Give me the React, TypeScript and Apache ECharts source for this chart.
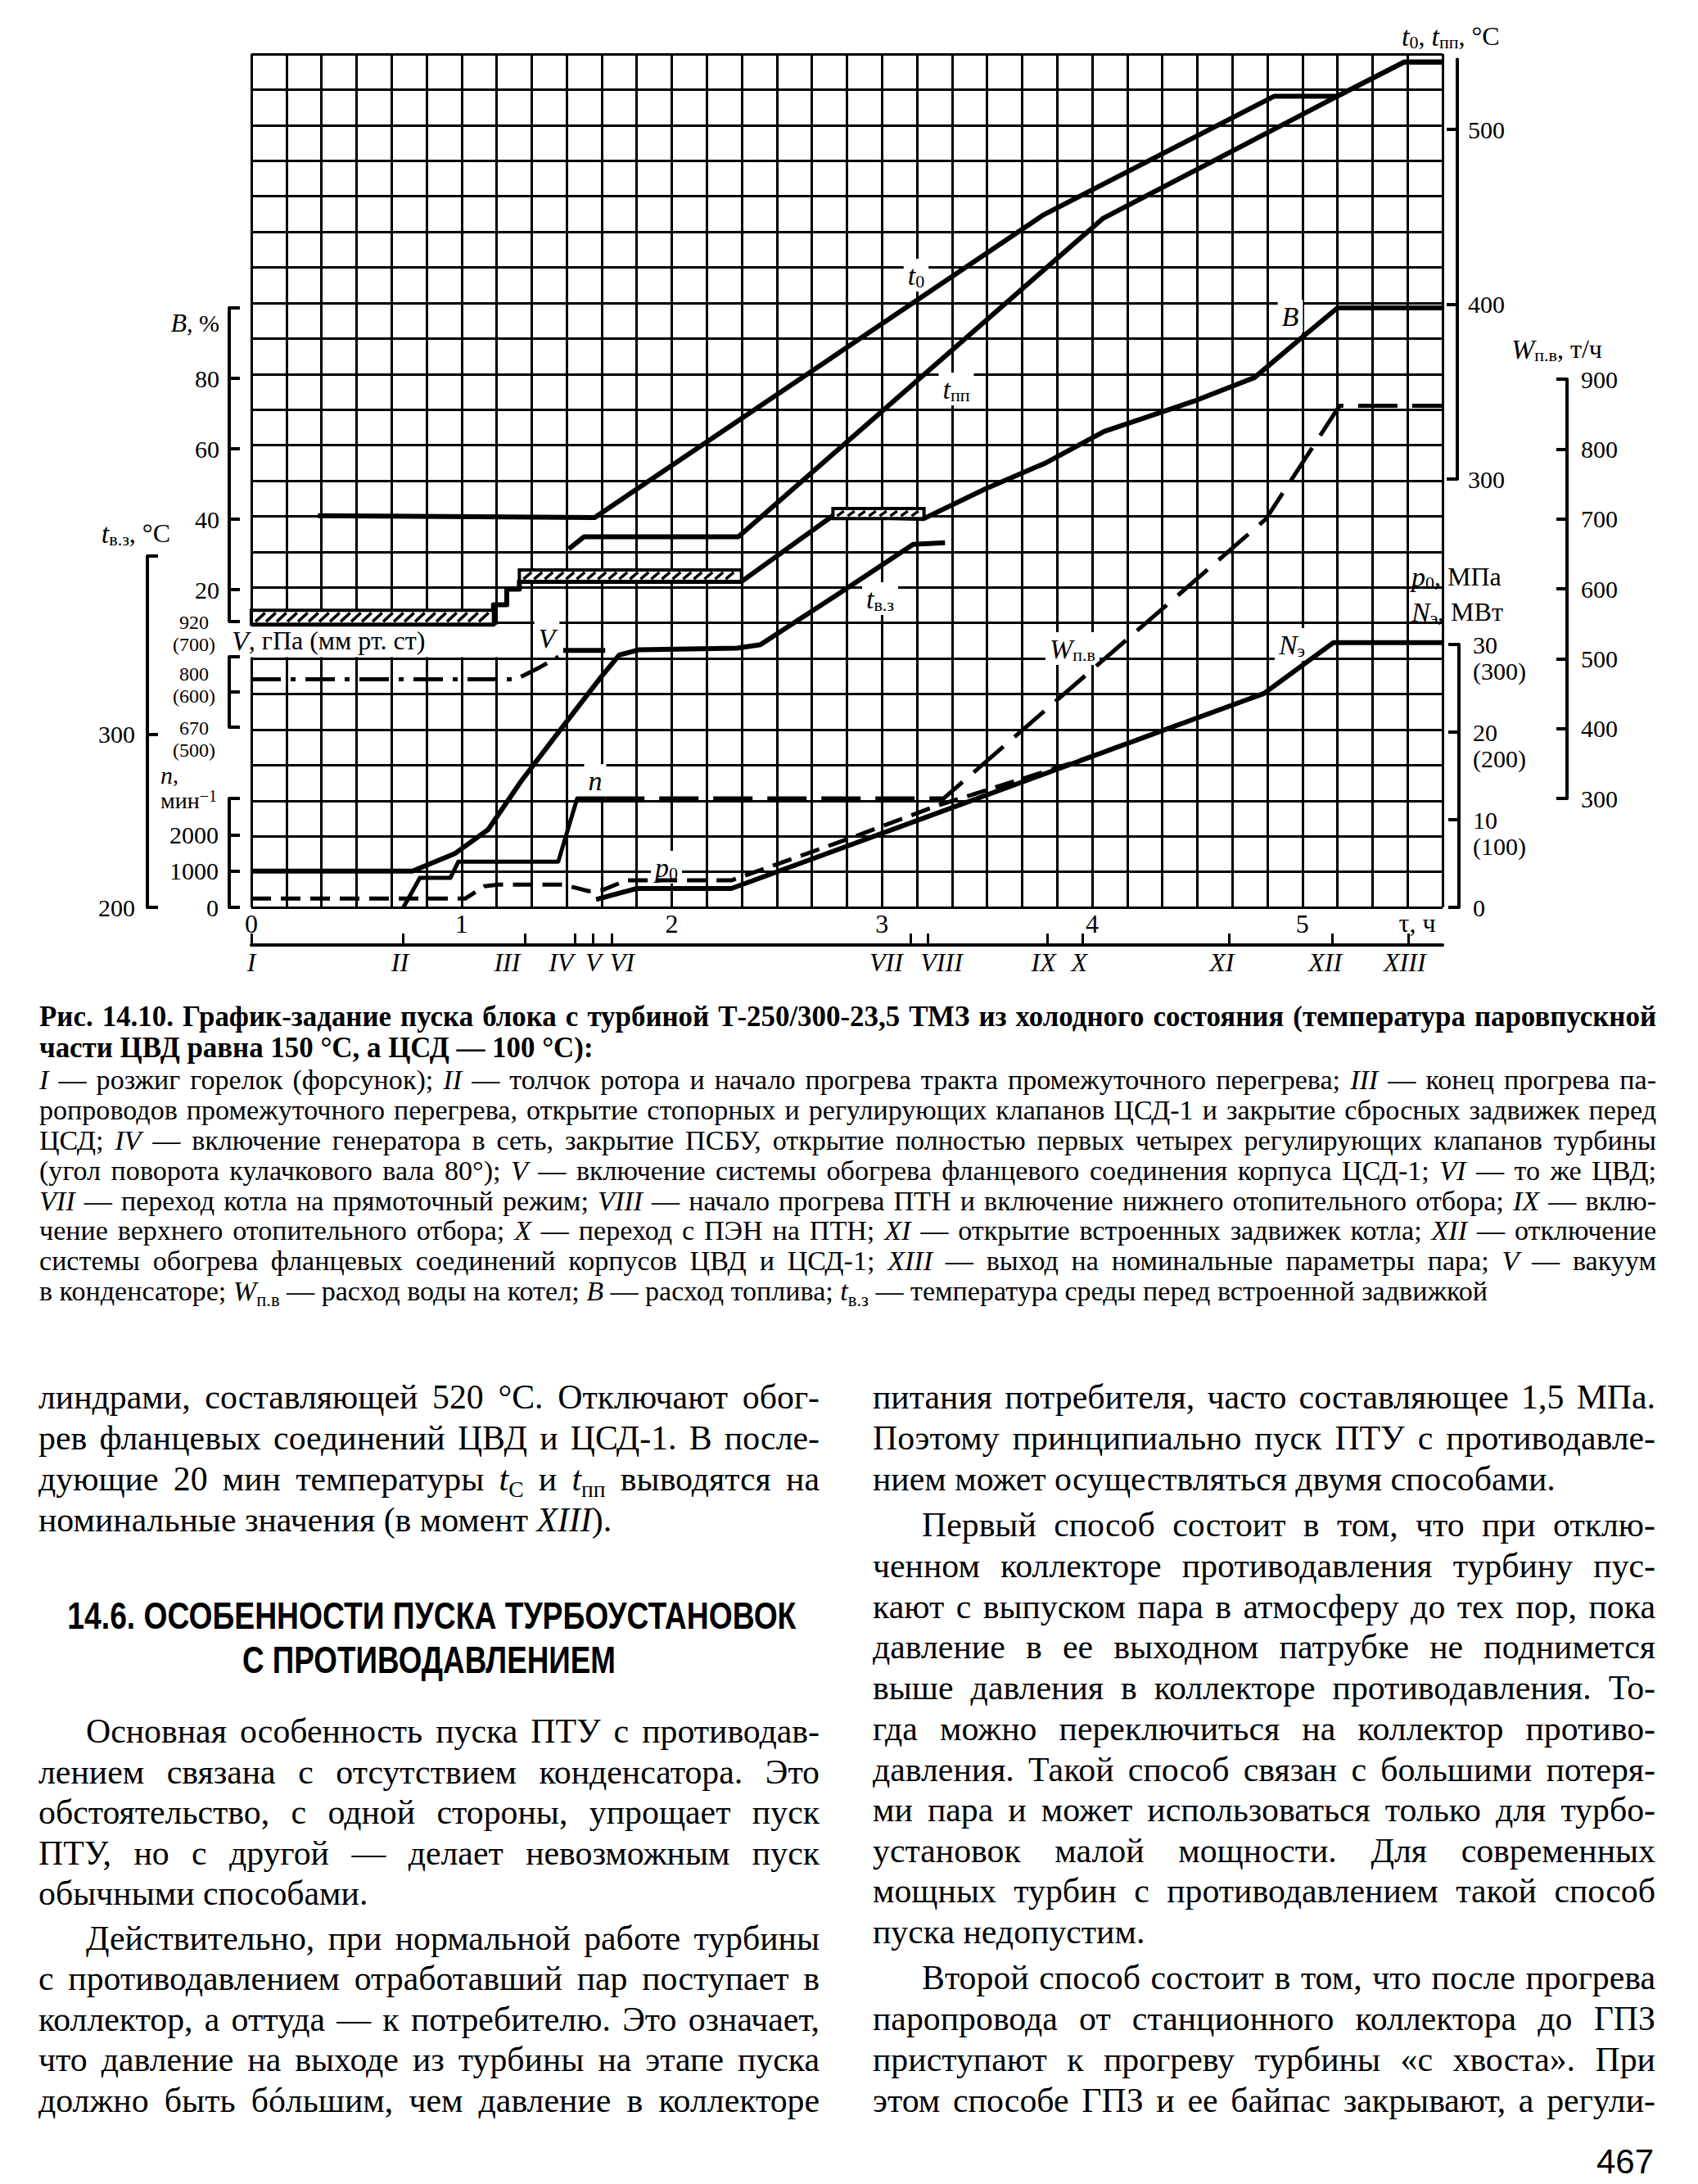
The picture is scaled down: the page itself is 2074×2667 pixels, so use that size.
import React, { useEffect, useRef, useMemo } from 'react';
import * as echarts from 'echarts';

const FONT = '"Liberation Serif", "Times New Roman", serif';
const SANS = '"Liberation Sans", Arial, sans-serif';

// ---------------- DATA (time in minutes from the start) ----------------
const X_MAX = 340;
const hourLabels = [0, 1, 2, 3, 4, 5];
const stageNames = ['I', 'II', 'III', 'IV', 'V', 'VI', 'VII', 'VIII', 'IX', 'X', 'XI', 'XII', 'XIII'];
const stageTimes = [0, 43.4, 78, 92.4, 97.6, 102.8, 188.2, 193, 227.1, 237.3, 279, 308.5, 330.2];
const stageLabelShift = [0, -1, -5, -4, 0, 3, -7, 4, -1, -1, -2, -2, -1];

// t0, t_pp, °C
const t0Data = [[19, 279], [98, 278], [226, 451], [292, 519], [310, 519], [329, 538.5], [340, 538.5]];
const tppData = [[90.6, 260], [95, 267], [139, 267], [243, 449], [310, 519], [329, 538.5], [340, 538.5]];
// B, %
const bData = [[0, 10.2], [69.1, 10.2], [69.1, 15.7], [72.9, 15.7], [72.9, 20.1], [76.5, 20.1], [76.5, 22.3],
  [139.9, 22.3], [166, 41], [192, 40.2], [209.5, 48.6], [226.8, 56], [243.4, 64.9], [269, 73.5],
  [286.3, 80.2], [299.6, 91.4], [310, 100], [340, 100]];
// hatched bands of B: [from, to, low, high]
const bBands = [[0, 69.1, 10.2, 14.1], [76.5, 139.9, 22.3, 25.6], [166, 192, 40.2, 43]];
// t_v.z, °C
const tvzData = [[0, 221], [46, 221], [58, 231], [67.6, 245], [77, 273], [88.3, 303], [99.7, 333], [105, 346],
  [110.5, 349], [138.6, 350], [145.3, 352], [150.6, 359], [157.4, 368], [166.5, 380], [188.9, 410], [198, 411]];
// V, mm Hg
const vacuumData = [[0, 636], [75.6, 636], [82.3, 670], [87.7, 700]];
const vacuumStable = [[89, 718], [101, 718]];
// n, 1/min
const nData = [[43.4, 0], [48.1, 810], [56.8, 810], [59.1, 1260], [87.6, 1260], [93, 3000], [101, 3000]];
// p0, MPa
const p0Data = [[0, 1.0], [61, 1.0], [66.5, 2.4], [70.5, 2.6], [89, 2.6], [96.3, 1.85], [100.4, 2.0], [107, 3.08],
  [137, 3.08], [171, 7.9], [195, 11.5], [236, 16.7], [289, 24.4]];
// N_e, MW (x10)
const nEData = [[98.4, 0.9], [110, 2.15], [137, 2.15], [289, 24.4], [308.8, 30.2], [340, 30.2]];
// W_p.v, t/h
const wData = [[101, 300], [197.6, 300], [289.6, 700], [310.6, 862], [340, 862]];

// axis ticks / labels
const tTicks = [300, 400, 500];
const bTicks = [11, 20, 40, 60, 80, 100];
const bLabels = [20, 40, 60, 80, 100];
const tvzTicks = [200, 300, 403.3];
const tvzLabels = [200, 300];
const vTicks = [500, 600, 700];
const vHpa = ['670', '800', '920'];
const nTicks = [0, 1000, 2000, 3000];
const nLabels = [0, 1000, 2000];
const pTicks = [0, 10, 20, 30];
const nEScaleLabels = [10, 20, 30]; // N_e in MW/10, shown in brackets as MW
const wTicks = [300, 400, 500, 600, 700, 800, 900];

// ---------------- LAYOUT ----------------
const GL = 307, GR = 312;
const gridBoxes = [
  { top: 66, height: 1042 },     // 0 main grid
  { top: 72.6, height: 512.4 },  // 1 t0, tpp (300..540)
  { top: 376, height: 382.7 },   // 2 B (11..100)
  { top: 679, height: 429 },     // 3 tvz (200..403.3)
  { top: 802, height: 86 },      // 4 V (500..700)
  { top: 975, height: 133 },     // 5 n (0..3000)
  { top: 787, height: 321 },     // 6 p0, Ne (0..30)
  { top: 463, height: 512 },     // 7 W (300..900)
];
// where the V tick labels sit relative to their ticks (px)
const vLabelShift = [14, -9, -29];
const bracketDrop = 3; // (MW) labels sit 3 units under the MPa labels

const RICH = {
  r: { fontFamily: FONT, fontSize: 32, lineHeight: 36, color: '#000' },
  i: { fontFamily: FONT, fontSize: 34, fontStyle: 'italic', lineHeight: 36, color: '#000' },
  s: { fontFamily: FONT, fontSize: 22, lineHeight: 14, verticalAlign: 'bottom', color: '#000' },
  sup: { fontFamily: FONT, fontSize: 20, lineHeight: 12, verticalAlign: 'top', color: '#000' },
  e: { fontFamily: FONT, fontSize: 30, lineHeight: 36, color: '#000' },
  rn: { fontFamily: FONT, fontSize: 28, lineHeight: 31, color: '#000' },
  in: { fontFamily: FONT, fontSize: 30, fontStyle: 'italic', lineHeight: 31, color: '#000' },
};

const chartLabels = [
  { x: 1712, y: 44, align: 'left', text: '{i|t}{s|0}{r|, }{i|t}{s|пп}{r|, °C}' },
  { x: 1846, y: 426, align: 'left', text: '{i|W}{s|п.в}{r|, т/ч}' },
  { x: 1724, y: 704, align: 'left', text: '{i|p}{s|0}{r|, МПа}' },
  { x: 1724, y: 747, align: 'left', text: '{i|N}{s|э}{r|, МВт}' },
  { x: 208, y: 651, align: 'right', text: '{i|t}{s|в.з}{r|, °C}' },
  { x: 283, y: 782, align: 'left', text: '{i|V}{r|, гПа (мм рт. ст)}' },
  { x: 196, y: 961.5, align: 'left', text: '{in|n}{rn|,}\n{rn|мин}{sup|−1}' },
  { x: 1731, y: 1127, align: 'center', text: '{r|τ, ч}' },
  { x: 1119, y: 336, align: 'center', text: '{i|t}{s|0}', bg: true },
  { x: 1168, y: 475, align: 'center', text: '{i|t}{s|пп}', bg: true },
  { x: 1576, y: 386, align: 'center', text: '{i|B}', bg: true },
  { x: 1075, y: 731, align: 'center', text: '{i|t}{s|в.з}', bg: true },
  { x: 1310, y: 792, align: 'center', text: '{i|W}{s|п.в}', bg: true },
  { x: 1578, y: 787, align: 'center', text: '{i|N}{s|э}', bg: true },
  { x: 668, y: 779, align: 'center', text: '{i|V}', bg: true },
  { x: 727, y: 953, align: 'center', text: '{i|n}', bg: true },
  { x: 814, y: 1059, align: 'center', text: '{i|p}{s|0}', bg: true },
];

function scaleAxis(gridIndex, min, max, position, offset, ticks, labels, formatter, margin, extra = {}) {
  return {
    type: 'value', gridIndex, min, max, position, offset,
    axisLine: { show: true, onZero: false, lineStyle: { color: '#000', width: 4 } },
    axisTick: { show: true, inside: true, length: 13, customValues: ticks, lineStyle: { color: '#000', width: 4 } },
    axisLabel: {
      show: labels.length > 0, customValues: labels, formatter, margin, color: '#000', fontFamily: FONT, fontSize: 30,
      showMinLabel: true, showMaxLabel: true, ...extra,
    },
    splitLine: { show: false },
  };
}

function lineS(gi, data, width, type: any = 'solid') {
  return {
    type: 'line', xAxisIndex: gi + 1, yAxisIndex: gi, data, symbol: 'none', showSymbol: false,
    clip: false, silent: true, z: 3,
    lineStyle: { color: '#000', width, type, cap: 'butt', join: 'round' },
  };
}

function buildOption() {
  const stageLabelPos = stageTimes.map((t, i) => t + stageLabelShift[i]);
  const grid = gridBoxes.map((g) => ({ left: GL, right: GR, top: g.top, height: g.height, show: false }));
  const xAxis: any[] = [
    {
      type: 'value', gridIndex: 0, min: 0, max: X_MAX, interval: 10, position: 'bottom',
      axisLine: { show: false, onZero: false }, axisTick: { show: false },
      splitLine: { show: true, lineStyle: { color: '#000', width: 3 } },
      axisLabel: {
        customValues: hourLabels.map((h) => h * 60), formatter: (v) => String(Math.round(v / 60)),
        margin: 4, color: '#000', fontFamily: FONT, fontSize: 32, showMinLabel: true, showMaxLabel: true,
      },
    },
    {
      type: 'value', gridIndex: 0, min: 0, max: X_MAX, position: 'bottom', offset: 46,
      axisLine: { show: true, onZero: false, lineStyle: { color: '#000', width: 4 } },
      axisTick: { show: true, inside: true, length: 14, customValues: stageTimes, lineStyle: { color: '#000', width: 3 } },
      splitLine: { show: false },
      axisLabel: {
        customValues: stageLabelPos,
        formatter: (v) => {
          let best = 0;
          stageLabelPos.forEach((p, i) => { if (Math.abs(p - v) < Math.abs(stageLabelPos[best] - v)) best = i; });
          return stageNames[best];
        },
        margin: 5, color: '#000', fontFamily: FONT, fontSize: 32, fontStyle: 'italic',
        showMinLabel: true, showMaxLabel: true,
      },
    },
  ];
  for (let g = 1; g < gridBoxes.length; g++) {
    xAxis.push({ type: 'value', gridIndex: g, min: 0, max: X_MAX, show: false });
  }
  const yAxis: any[] = [
    {
      type: 'value', gridIndex: 0, min: 0, max: 24, interval: 1,
      axisLine: { show: false, onZero: false }, axisTick: { show: false }, axisLabel: { show: false },
      splitLine: { show: true, lineStyle: { color: '#000', width: 3 } },
    },
    scaleAxis(1, 300, 540, 'right', 18, tTicks, tTicks, (v) => String(v), 13),
    scaleAxis(2, 11, 100, 'left', 27, bTicks, bLabels,
      (v) => (v === 100 ? '{e| }\n{i|B}{e|, %}' : String(v)), 12,
      { rich: { e: RICH.e, i: { ...RICH.i, fontSize: 32 } } }),
    scaleAxis(3, 200, 403.3, 'left', 127, tvzTicks, tvzLabels, (v) => String(v), 15),
    scaleAxis(4, 500, 700, 'left', 27, vTicks, [], (v) => String(v), 10),
    scaleAxis(5, 0, 3000, 'left', 27, nTicks, nLabels, (v) => String(v), 13),
    scaleAxis(6, 0, 30, 'right', 20, pTicks, pTicks, (v) => String(v), 17),
    scaleAxis(7, 300, 900, 'right', 152, wTicks, wTicks, (v) => String(v), 17),
    // second label row of the p0 / N_e scale: N_e in MW, in brackets
    {
      type: 'value', gridIndex: 6, min: 0, max: 30, position: 'right', offset: 20,
      axisLine: { show: false, onZero: false }, axisTick: { show: false }, splitLine: { show: false },
      axisLabel: {
        customValues: nEScaleLabels.map((v) => v - bracketDrop),
        formatter: (v) => '(' + Math.round((v + bracketDrop) * 10) + ')',
        margin: 17, color: '#000', fontFamily: FONT, fontSize: 30, showMinLabel: true, showMaxLabel: true,
      },
    },
  ];

  const bandSeries = {
    type: 'custom', xAxisIndex: 3, yAxisIndex: 2, data: bBands, silent: true, z: 4, clip: false,
    encode: { x: [0, 1], y: [2, 3] },
    renderItem: (params, api) => {
      const a = api.coord([api.value(0), api.value(3)]);
      const b = api.coord([api.value(1), api.value(2)]);
      const h = b[1] - a[1];
      const children: any[] = [{
        type: 'rect', shape: { x: a[0], y: a[1], width: b[0] - a[0], height: h },
        style: { fill: '#fff', stroke: '#000', lineWidth: 4 },
      }];
      for (let x = a[0] + 5; x + h * 0.7 < b[0] - 2; x += 13) {
        children.push({
          type: 'line', shape: { x1: x, y1: b[1] - 3, x2: x + h * 0.7, y2: a[1] + 3 },
          style: { stroke: '#000', lineWidth: 3.5 },
        });
      }
      return { type: 'group', children };
    },
  };

  const series: any[] = [
    lineS(1, t0Data, 6), lineS(1, tppData, 6),
    lineS(2, bData, 6), bandSeries,
    lineS(3, tvzData, 6),
    lineS(4, vacuumData, 5, [36, 12, 6, 12]), lineS(4, vacuumStable, 6),
    lineS(5, nData, 5),
    lineS(6, p0Data, 5, [24, 12]), lineS(6, nEData, 6),
    lineS(7, wData, 5, [48, 18]),
  ];

  const rowH = gridBoxes[0].height / 24;
  const colW = (2074 - GL - GR) / 34;
  const vBox = gridBoxes[4];
  const vPx = (v) => vBox.top + vBox.height * (700 - v) / 200;
  const graphicEls: any[] = [
    {
      type: 'rect', silent: true, z: 1,
      shape: { x: GL - 3, y: gridBoxes[0].top + 16 * rowH + 2, width: 8 * colW + 1.2, height: rowH - 3.5 },
      style: { fill: '#fff' },
    },
    ...vTicks.map((v, i) => ({
      type: 'text', x: 237, y: vPx(v) + vLabelShift[i], z: 1, silent: true,
      style: {
        text: vHpa[i] + '\n(' + v + ')', fill: '#000', fontFamily: FONT, fontSize: 24, lineHeight: 27,
        align: 'center', verticalAlign: 'middle',
      },
    })),
    ...chartLabels.map((l) => ({
      type: 'text', x: l.x, y: l.y, z: 1, silent: true,
      style: {
        text: l.text, rich: RICH, fill: '#000', align: l.align, verticalAlign: 'middle',
        backgroundColor: l.bg ? '#fff' : 'transparent', padding: l.bg ? [2, 5] : 0,
      },
    })),
  ];

  return { animation: false, backgroundColor: '#fff', grid, xAxis, yAxis, series, graphic: { elements: graphicEls } };
}

// ---------------- PAGE TEXT ----------------
type Ln = { t: string; y: number; last?: boolean; indent?: boolean };

const captionBold: Ln[] = [
  { t: 'Рис. 14.10. График-задание пуска блока с турбиной Т-250/300-23,5 ТМЗ из холодного состояния (температура паровпускной', y: 1241 },
  { t: 'части ЦВД равна 150 °С, а ЦСД — 100 °С):', y: 1279, last: true },
];
const captionText: Ln[] = [
  { t: '[i:I] — розжиг горелок (форсунок); [i:II] — толчок ротора и начало прогрева тракта промежуточного перегрева; [i:III] — конец прогрева па-', y: 1318.5 },
  { t: 'ропроводов промежуточного перегрева, открытие стопорных и регулирующих клапанов ЦСД-1 и закрытие сбросных задвижек перед', y: 1355.5 },
  { t: 'ЦСД; [i:IV] — включение генератора в сеть, закрытие ПСБУ, открытие полностью первых четырех регулирующих клапанов турбины', y: 1392.5 },
  { t: '(угол поворота кулачкового вала 80°); [i:V] — включение системы обогрева фланцевого соединения корпуса ЦСД-1; [i:VI] — то же ЦВД;', y: 1429 },
  { t: '[i:VII] — переход котла на прямоточный режим; [i:VIII] — начало прогрева ПТН и включение нижнего отопительного отбора; [i:IX] — вклю-', y: 1466 },
  { t: 'чение верхнего отопительного отбора; [i:X] — переход с ПЭН на ПТН; [i:XI] — открытие встроенных задвижек котла; [i:XII] — отключение', y: 1502 },
  { t: 'системы обогрева фланцевых соединений корпусов ЦВД и ЦСД-1; [i:XIII] — выход на номинальные параметры пара; [i:V] — вакуум', y: 1539 },
  { t: 'в конденсаторе; [i:W][s:п.в] — расход воды на котел; [i:B] — расход топлива; [i:t][s:в.з] — температура среды перед встроенной задвижкой', y: 1576.5, last: true },
];
const leftCol: Ln[] = [
  { t: 'линдрами, составляющей 520 °С. Отключают обог-', y: 1706 },
  { t: 'рев фланцевых соединений ЦВД и ЦСД-1. В после-', y: 1756 },
  { t: 'дующие 20 мин температуры [i:t][s:С] и [i:t][s:пп] выводятся на', y: 1806 },
  { t: 'номинальные значения (в момент [i:XIII]).', y: 1856, last: true },
  { t: 'Основная особенность пуска ПТУ с противодав-', y: 2114, indent: true },
  { t: 'лением связана с отсутствием конденсатора. Это', y: 2164 },
  { t: 'обстоятельство, с одной стороны, упрощает пуск', y: 2213 },
  { t: 'ПТУ, но с другой — делает невозможным пуск', y: 2263 },
  { t: 'обычными способами.', y: 2312, last: true },
  { t: 'Действительно, при нормальной работе турбины', y: 2367, indent: true },
  { t: 'с противодавлением отработавший пар поступает в', y: 2416 },
  { t: 'коллектор, а оттуда — к потребителю. Это означает,', y: 2466 },
  { t: 'что давление на выходе из турбины на этапе пуска', y: 2515 },
  { t: 'должно быть бóльшим, чем давление в коллекторе', y: 2565 },
];
const rightCol: Ln[] = [
  { t: 'питания потребителя, часто составляющее 1,5 МПа.', y: 1706 },
  { t: 'Поэтому принципиально пуск ПТУ с противодавле-', y: 1756 },
  { t: 'нием может осуществляться двумя способами.', y: 1806, last: true },
  { t: 'Первый способ состоит в том, что при отклю-', y: 1862, indent: true },
  { t: 'ченном коллекторе противодавления турбину пус-', y: 1912 },
  { t: 'кают с выпуском пара в атмосферу до тех пор, пока', y: 1962 },
  { t: 'давление в ее выходном патрубке не поднимется', y: 2011 },
  { t: 'выше давления в коллекторе противодавления. То-', y: 2061 },
  { t: 'гда можно переключиться на коллектор противо-', y: 2111 },
  { t: 'давления. Такой способ связан с большими потеря-', y: 2161 },
  { t: 'ми пара и может использоваться только для турбо-', y: 2210 },
  { t: 'установок малой мощности. Для современных', y: 2260 },
  { t: 'мощных турбин с противодавлением такой способ', y: 2309 },
  { t: 'пуска недопустим.', y: 2359, last: true },
  { t: 'Второй способ состоит в том, что после прогрева', y: 2415, indent: true },
  { t: 'паропровода от станционного коллектора до ГПЗ', y: 2465 },
  { t: 'приступают к прогреву турбины «с хвоста». При', y: 2515 },
  { t: 'этом способе ГПЗ и ее байпас закрывают, а регули-', y: 2565 },
];
const headingLines = [
  { t: '14.6. ОСОБЕННОСТИ ПУСКА ТУРБОУСТАНОВОК', cx: 527, y: 1973, w: 890 },
  { t: 'С ПРОТИВОДАВЛЕНИЕМ', cx: 524, y: 2027, w: 456 },
];
const HEAD_SIZE = 47;
const HEAD_LH = 54;

const TOKEN = /\[(i|s):([^\]]+)\]/g;
function plainText(s: string) { return s.replace(TOKEN, '$2'); }
function richHtml(s: string) {
  const out: any[] = [];
  const re = new RegExp(TOKEN.source, 'g');
  let last = 0; let m; let k = 0;
  while ((m = re.exec(s))) {
    if (m.index > last) out.push(s.slice(last, m.index));
    if (m[1] === 'i') out.push(<i key={k++}>{m[2]}</i>);
    else out.push(<sub key={k++} style={{ fontSize: '0.66em', lineHeight: 0, verticalAlign: '-0.3em' }}>{m[2]}</sub>);
    last = re.lastIndex;
  }
  if (last < s.length) out.push(s.slice(last));
  return out;
}
function measure(text: string, font: string) {
  const ctx = document.createElement('canvas').getContext('2d');
  if (!ctx) return text.length * 20;
  ctx.font = font;
  return ctx.measureText(text).width;
}
function fitFont(lines: Ln[], width: number, indentPx: number, base: number, weight: string) {
  let best = base;
  for (const ln of lines) {
    if (ln.last) continue;
    const w = measure(plainText(ln.t), `${weight} ${base}px "Liberation Serif"`);
    const avail = width - (ln.indent ? indentPx : 0);
    best = Math.min(best, (base * avail) / w);
  }
  return Math.floor(best * 0.985 * 10) / 10;
}

function TextBlock({ lines, x, w, size, weight, lh, indentPx }) {
  return (
    <>
      {lines.map((ln, k) => {
        const ind = ln.indent ? indentPx : 0;
        return (
          <div key={k} style={{
            position: 'absolute', left: x + ind, top: ln.y - lh / 2, width: w - ind, height: lh,
            lineHeight: `${lh}px`, fontSize: size, fontFamily: FONT, fontWeight: weight as any, color: '#000',
            textAlign: ln.last ? 'left' : 'justify', textAlignLast: ln.last ? 'left' : 'justify',
            overflow: 'visible',
          } as any}>
            {richHtml(ln.t)}
          </div>
        );
      })}
    </>
  );
}

export default function App() {
  const ref = useRef<HTMLDivElement>(null);
  const sizes = useMemo(() => ({
    capB: fitFont(captionBold, 1975, 0, 38, 'bold'),
    cap: fitFont(captionText, 1975, 0, 36, 'normal'),
    body: Math.min(fitFont(leftCol, 954, 58, 48, 'normal'), fitFont(rightCol, 956, 60, 48, 'normal')),
    head: headingLines.map((h) => measure(h.t, `bold ${HEAD_SIZE}px "Liberation Sans"`)),
  }), []);

  useEffect(() => {
    document.body.style.margin = '0';
    const chart = echarts.init(ref.current as HTMLDivElement, null, { renderer: 'svg' });
    chart.setOption(buildOption() as any);
    return () => chart.dispose();
  }, []);

  return (
    <div style={{ position: 'relative', width: 2074, height: 2667, background: '#fff', overflow: 'hidden' }}>
      <div ref={ref} style={{ position: 'absolute', left: 0, top: 0, width: 2074, height: 1200 }} />
      <TextBlock lines={captionBold} x={48} w={1975} size={sizes.capB} weight="bold" lh={37} indentPx={0} />
      <TextBlock lines={captionText} x={48} w={1975} size={sizes.cap} weight="normal" lh={37} indentPx={0} />
      <TextBlock lines={leftCol} x={47} w={954} size={sizes.body} weight="normal" lh={50} indentPx={58} />
      <TextBlock lines={rightCol} x={1066} w={956} size={sizes.body} weight="normal" lh={50} indentPx={60} />
      {headingLines.map((h, k) => {
        const nat = sizes.head[k];
        return (
          <div key={'h' + k} style={{
            position: 'absolute', left: h.cx - nat / 2, top: h.y - HEAD_LH / 2, width: nat, height: HEAD_LH,
            lineHeight: `${HEAD_LH}px`, fontFamily: SANS, fontWeight: 'bold', fontSize: HEAD_SIZE, color: '#000',
            whiteSpace: 'nowrap', textAlign: 'center',
            transform: `scaleX(${h.w / nat})`, transformOrigin: 'center center',
          }}>{h.t}</div>
        );
      })}
      <div style={{
        position: 'absolute', right: 2074 - 2020, top: 2616, height: 48, lineHeight: '48px',
        fontFamily: SANS, fontSize: 42, color: '#000',
      }}>467</div>
    </div>
  );
}
